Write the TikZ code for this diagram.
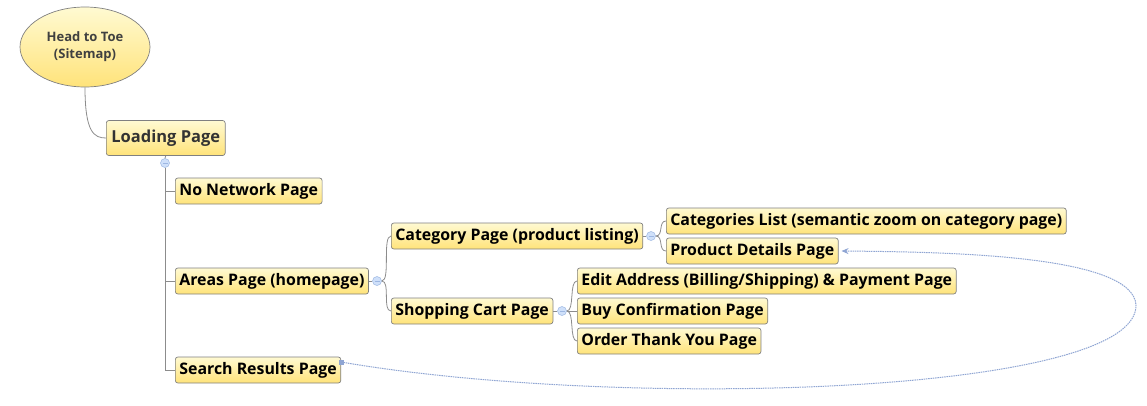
\documentclass[tikz,border=0pt]{standalone}
\usepackage{fontspec}
\setmainfont{Open Sans}
\usetikzlibrary{shapes.geometric,arrows.meta}
\definecolor{boxtop}{HTML}{FFFAD2}
\definecolor{boxbot}{HTML}{FFE37A}
\definecolor{boxline}{HTML}{808080}
\definecolor{conline}{HTML}{8C8C8C}
\definecolor{togfill}{HTML}{CFE0FA}
\definecolor{togline}{HTML}{9DB7E2}
\definecolor{relcol}{HTML}{8FA5D3}
\begin{document}
\begin{tikzpicture}[x=1pt,y=-1pt,
  pagebox/.style={draw=boxline, rounded corners=2.5pt, top color=boxtop, bottom color=boxbot,
    font=\bfseries\fontsize{15.9}{18}\selectfont, minimum height=26, inner xsep=4, inner ysep=0, anchor=west, line width=0.7},
  rootbox/.style={pagebox, font=\bfseries\fontsize{16.5}{20}\selectfont, minimum height=35, inner xsep=5},
  tog/.style={circle, minimum size=9, inner sep=0, fill=togfill, draw=togline, line width=0.5,
    path picture={\draw[togline, line width=0.6] ([xshift=-2.5pt]path picture bounding box.center) -- ([xshift=2.5pt]path picture bounding box.center);}},
  con/.style={draw=conline, line width=0.8},
  rel/.style={draw=relcol, line width=1, dash pattern=on 1.5pt off 0.8pt, -{Stealth[length=7pt,width=6pt]}}
]
\useasboundingbox (0,0) rectangle (1147,405);

% root
\node[ellipse, draw=boxline, line width=0.7, top color=boxtop, bottom color=boxbot,
      minimum width=130, minimum height=80, align=center,
      font=\bfseries\fontsize{13}{17}\selectfont, text=black!75] (root) at (85,47) {Head to Toe\\(Sitemap)};

\node[rootbox, text=black!80] (load) at (106,138) {Loading Page};
\node[tog] (t1) at (165,163) {};

\node[pagebox] (nn) at (175,191) {No Network Page};
\node[pagebox] (ar) at (175,281) {Areas Page (homepage)};
\node[pagebox] (sr) at (175,370) {Search Results Page};

\node[tog] (t2) at (377,281) {};
\node[pagebox] (cat) at (391,236) {Category Page (product listing)};
\node[pagebox] (cart) at (391,311) {Shopping Cart Page};

\node[tog] (t3) at (651,236) {};
\node[pagebox] (cl) at (666,221) {Categories List (semantic zoom on category page)};
\node[pagebox] (pd) at (666,251) {Product Details Page};

\node[tog] (t4) at (562,311) {};
\node[pagebox] (ea) at (577,281) {Edit Address (Billing/Shipping) \& Payment Page};
\node[pagebox] (bc) at (577,311) {Buy Confirmation Page};
\node[pagebox] (ot) at (577,341) {Order Thank You Page};

% connectors
\draw[con] (root.south) .. controls +(0,45) and +(-12,0) .. (load.west);
\draw[con] (load.south) -- (t1.north);
\draw[con] (t1.south) |- (nn.west);
\draw[con] (t1.south) |- (ar.west);
\draw[con] (t1.south) |- (sr.west);
\draw[con] (ar.east) -- (t2.west);
\draw[con] (t2.east) .. controls +(9,0) and +(-9,0) .. (cat.west);
\draw[con] (t2.east) .. controls +(9,0) and +(-9,0) .. (cart.west);
\draw[con] (cat.east) -- (t3.west);
\draw[con] (t3.east) .. controls +(8,0) and +(-8,0) .. (cl.west);
\draw[con] (t3.east) .. controls +(8,0) and +(-8,0) .. (pd.west);
\draw[con] (cart.east) -- (t4.west);
\draw[con] (t4.east) .. controls +(8,0) and +(-8,0) .. (ea.west);
\draw[con] (t4.east) -- (bc.west);
\draw[con] (t4.east) .. controls +(8,0) and +(-8,0) .. (ot.west);

% relation
\coordinate (rs) at ([yshift=8pt]sr.east);
\coordinate (bend) at (1136,305);
\fill[relcol] ([xshift=-2.5pt,yshift=-2.5pt]rs) rectangle ([xshift=2.5pt,yshift=2.5pt]rs);
\draw[rel] (rs) .. controls (620,410) and (1138,395) .. (bend) .. controls (1133,255) and (950,252) .. ([xshift=3pt]pd.east);
\end{tikzpicture}
\end{document}
